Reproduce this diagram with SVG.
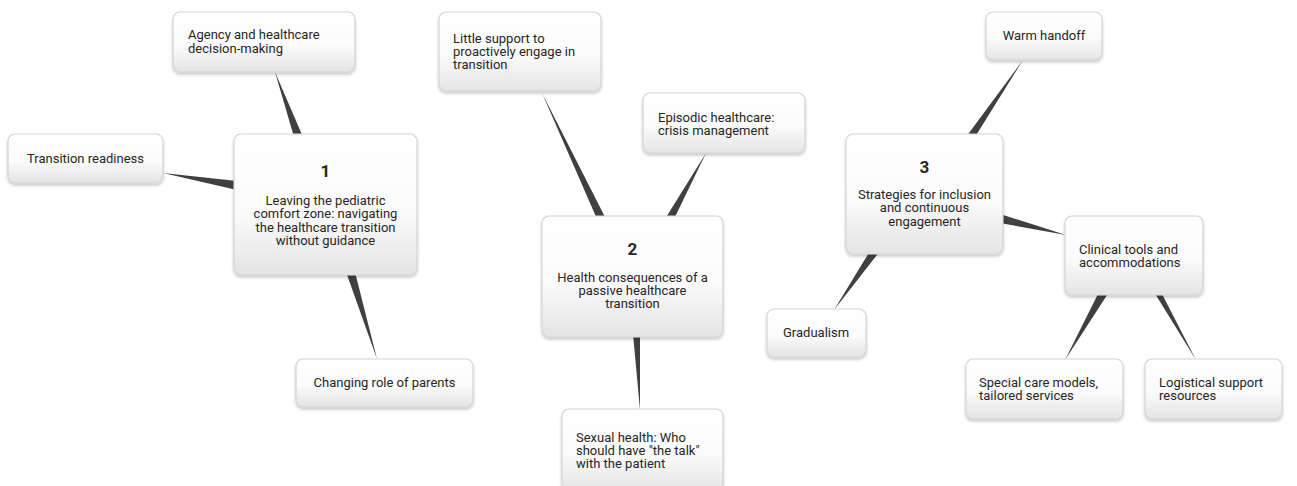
<svg xmlns="http://www.w3.org/2000/svg" width="1297" height="486" viewBox="0 0 1297 486">
  <defs>
    <linearGradient id="boxFill" x1="0" y1="0" x2="0" y2="1">
      <stop offset="0" stop-color="#ffffff"/>
      <stop offset="0.55" stop-color="#fbfbfb"/>
      <stop offset="1" stop-color="#e4e4e4"/>
    </linearGradient>
    <filter id="shadow" x="-10%" y="-10%" width="120%" height="130%">
      <feDropShadow dx="0" dy="2" stdDeviation="1.6" flood-color="#000" flood-opacity="0.22"/>
    </filter>
  </defs>
  <style>
    .box { fill: url(#boxFill); stroke: #d4d4d4; stroke-width: 1.2; filter: url(#shadow); }
    .t { font-family: Roboto, "Liberation Sans", sans-serif; font-size: 13px; fill: #262626; }
    .c { text-anchor: middle; }
    .num { font-family: Roboto, "Liberation Sans", sans-serif; font-size: 17px; font-weight: bold; fill: #262626; text-anchor: middle; }
    .wedge { fill: #404040; }
  </style>
  <rect width="1297" height="486" fill="#ffffff"/>

  <!-- tapered connectors: wide at the parent, pointed at the child -->
  <g id="connectors">
    <polygon class="wedge" points="275,72 294,137 303,137"/>
    <polygon class="wedge" points="163,173 237,181 237,190"/>
    <polygon class="wedge" points="346,272 355,272 377,359"/>
    <polygon class="wedge" points="542,93 597,219 606,219"/>
    <polygon class="wedge" points="706,153 665,219 674,219"/>
    <polygon class="wedge" points="633,334 640,334 640,410"/>
    <polygon class="wedge" points="1023,60 966,137 975,137"/>
    <polygon class="wedge" points="1000,214 1000,223 1066,235"/>
    <polygon class="wedge" points="870,251 880,251 834,310"/>
    <polygon class="wedge" points="1099,292 1109,292 1065,360"/>
    <polygon class="wedge" points="1154,292 1161,292 1196,360"/>
  </g>

  <!-- theme 1 -->
  <g id="node-agency">
    <rect class="box" x="173" y="12" width="182" height="60" rx="7"/>
    <text class="t" x="188" y="39">Agency and healthcare</text>
    <text class="t" x="188" y="52.5">decision-making</text>
  </g>
  <g id="node-readiness">
    <rect class="box" x="8" y="134" width="155" height="49" rx="7"/>
    <text class="t c" x="85.5" y="163">Transition readiness</text>
  </g>
  <g id="node-theme1">
    <rect class="box" x="234" y="134" width="183" height="141" rx="7"/>
    <text class="num" x="325.5" y="177">1</text>
    <text class="t c" x="325.5" y="205">Leaving the pediatric</text>
    <text class="t c" x="325.5" y="218.3">comfort zone: navigating</text>
    <text class="t c" x="325.5" y="231.6">the healthcare transition</text>
    <text class="t c" x="325.5" y="244.9">without guidance</text>
  </g>
  <g id="node-parents">
    <rect class="box" x="296" y="359" width="177" height="48" rx="7"/>
    <text class="t c" x="384.5" y="387">Changing role of parents</text>
  </g>

  <!-- theme 2 -->
  <g id="node-support">
    <rect class="box" x="439" y="12" width="162" height="79" rx="7"/>
    <text class="t" x="453" y="43">Little support to</text>
    <text class="t" x="453" y="56">proactively engage in</text>
    <text class="t" x="453" y="69">transition</text>
  </g>
  <g id="node-episodic">
    <rect class="box" x="643" y="93" width="162" height="60" rx="7"/>
    <text class="t" x="658" y="122">Episodic healthcare:</text>
    <text class="t" x="658" y="135">crisis management</text>
  </g>
  <g id="node-theme2">
    <rect class="box" x="542" y="216" width="181" height="121" rx="7"/>
    <text class="num" x="632.5" y="255">2</text>
    <text class="t c" x="632.5" y="281.5">Health consequences of a</text>
    <text class="t c" x="632.5" y="294.5">passive healthcare</text>
    <text class="t c" x="632.5" y="307.5">transition</text>
  </g>
  <g id="node-sexual">
    <rect class="box" x="562" y="409" width="161" height="82" rx="7"/>
    <text class="t" x="576" y="441.5">Sexual health: Who</text>
    <text class="t" x="576" y="454.5">should have "the talk"</text>
    <text class="t" x="576" y="467.5">with the patient</text>
  </g>

  <!-- theme 3 -->
  <g id="node-handoff">
    <rect class="box" x="986" y="12" width="116" height="48" rx="7"/>
    <text class="t c" x="1044" y="40">Warm handoff</text>
  </g>
  <g id="node-theme3">
    <rect class="box" x="846" y="134" width="157" height="120" rx="7"/>
    <text class="num" x="924.5" y="173">3</text>
    <text class="t c" x="924.5" y="199">Strategies for inclusion</text>
    <text class="t c" x="924.5" y="212.3">and continuous</text>
    <text class="t c" x="924.5" y="225.6">engagement</text>
  </g>
  <g id="node-clinical">
    <rect class="box" x="1065" y="216" width="138" height="79" rx="7"/>
    <text class="t" x="1079" y="254">Clinical tools and</text>
    <text class="t" x="1079" y="267">accommodations</text>
  </g>
  <g id="node-gradualism">
    <rect class="box" x="767" y="309" width="99" height="48" rx="7"/>
    <text class="t" x="783" y="337">Gradualism</text>
  </g>
  <g id="node-special">
    <rect class="box" x="966" y="359" width="157" height="60" rx="7"/>
    <text class="t" x="979" y="387">Special care models,</text>
    <text class="t" x="979" y="400">tailored services</text>
  </g>
  <g id="node-logistical">
    <rect class="box" x="1145" y="359" width="137" height="60" rx="7"/>
    <text class="t" x="1159" y="387">Logistical support</text>
    <text class="t" x="1159" y="400">resources</text>
  </g>
</svg>
